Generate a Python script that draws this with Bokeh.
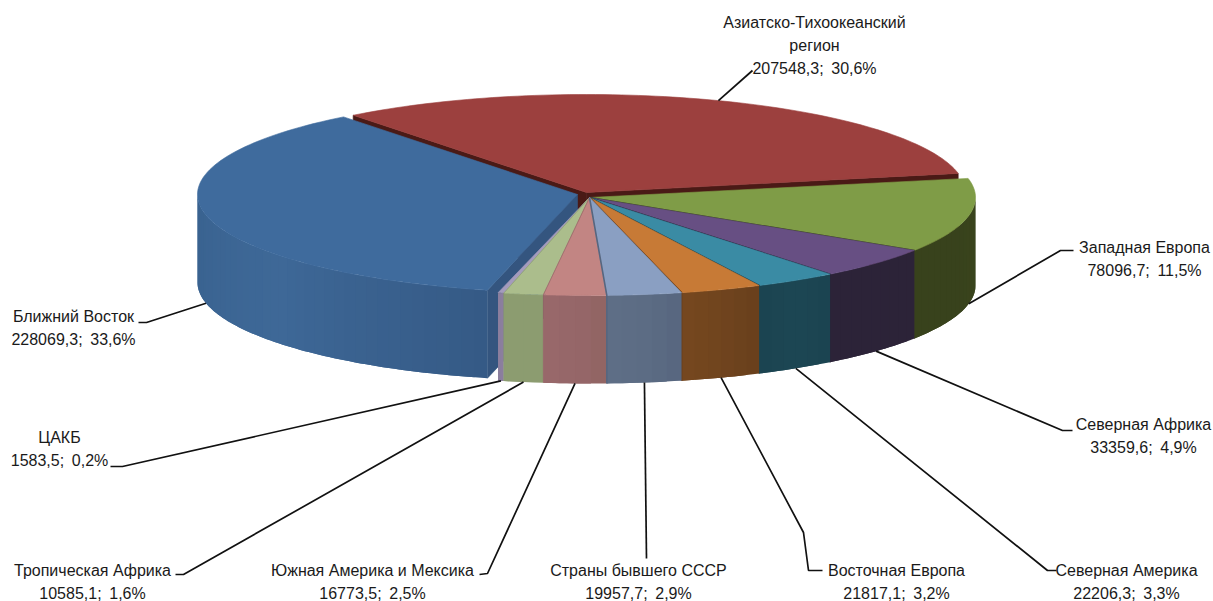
import numpy as np
from bokeh.plotting import figure
from bokeh.models import Range1d
from bokeh.core.properties import value
from bokeh.embed import file_html
from bokeh.resources import INLINE

categories = ["Азиатско-Тихоокеанский\nрегион", "Западная Европа", "Северная Африка", "Северная Америка",
              "Восточная Европа", "Страны бывшего СССР", "Южная Америка и Мексика", "Тропическая Африка",
              "ЦАКБ", "Ближний Восток"]
values = [207548.3, 78096.7, 33359.6, 22206.3, 21817.1, 19957.7, 16773.5, 10585.1, 1583.5, 228069.3]
shares = ["30,6", "11,5", "4,9", "3,3", "3,2", "2,9", "2,5", "1,6", "0,2", "33,6"]
value_text = ["207548,3", "78096,7", "33359,6", "22206,3", "21817,1", "19957,7", "16773,5", "10585,1", "1583,5", "228069,3"]

top_colors = ["#9c403e", "#7f9c47", "#674f83", "#3a8ba4", "#c77a36", "#8a9fc2", "#c28583", "#abbd8c", "#a49bbd", "#3f6b9d"]
wall_right = ["#4a1a16", "#3a451d", "#2c2338", "#1b4451", "#693f1c", "#57667f", "#916463", "#8c9c70", "#8b7e9e", "#355a86"]
wall_mid = ["#4a1a16", "#38421c", "#2c2338", "#1c4653", "#70441e", "#5c6c84", "#966769", "#8c9c70", "#8b7e9e", "#3e6897"]
wall_left = ["#4a1a16", "#38421c", "#2c2338", "#1b4451", "#76481f", "#5f6f86", "#98686a", "#8c9c70", "#8b7e9e", "#39628f"]
edge_width = [0, 1.5, 1.5, 1.5, 1.6, 1.6, 0.6, 0.6, 0, 0]

cx = [586, 589, 589, 589, 589, 589, 589, 589, 589, 577]
cy = [192, 197, 197, 197, 197, 197, 197, 197, 197, 194]
rx = [379, 386, 386, 386, 386, 386, 386, 386, 386, 380]
ry = [98, 98, 98, 98, 98, 98, 98, 98, 98, 98.5]
DEPTH = 88
START = -38.0

label_x = [814, 1144, 1143, 1126, 896, 638, 372, 92, 59, 73]
label_y = [68, 270, 447, 593, 593, 593, 593, 593, 460, 339]
knees = [[(752, 70)], [(1060, 250), (1073, 250)], [(1062, 430), (1072, 430)], [(1047, 570), (1056, 570)],
         [(803, 532), (808, 570), (822, 570)], [(646, 558)], [(487, 573), (479, 574)], [(183, 574), (175, 574)],
         [(122, 466), (110, 466)], [(146, 322), (138, 322)]]

frac = np.array(values) / sum(values) * 360.0
t0 = START + np.concatenate([[0], np.cumsum(frac)[:-1]])
t1 = t0 + frac


def rim(i, t):
    a = np.radians(t)
    return cx[i] + rx[i] * np.sin(a), cy[i] - ry[i] * np.cos(a)


def rgb(c):
    return np.array([int(c[k:k + 2], 16) for k in (1, 3, 5)], float)


def mix(i, f):
    a, b, c = rgb(wall_right[i]), rgb(wall_mid[i]), rgb(wall_left[i])
    v = a + (b - a) * f * 2 if f < 0.5 else b + (c - b) * (f - 0.5) * 2
    return "#%02x%02x%02x" % tuple(int(round(x)) for x in v)


p = figure(width=1213, height=601, output_backend="svg", toolbar_location=None,
           x_range=Range1d(0, 1213), y_range=Range1d(601, 0),
           min_border=0, outline_line_color=None, background_fill_color="white", border_fill_color="white")
p.axis.visible = False
p.grid.visible = False


def flat(xs, ys, color):
    p.patch(xs, ys, fill_color=color, line_color=color, line_width=0.6)


def radial_wall(i, t, color):
    x, y = rim(i, t)
    flat([cx[i], x, x, cx[i]], [cy[i], y, y + DEPTH, cy[i] + DEPTH], color)


def rim_wall(i):
    lo, hi = max(t0[i], 90.0), min(t1[i], 270.0)
    if hi <= lo:
        return
    n = max(2, int((hi - lo) / 2.0))
    edges = np.linspace(lo, hi, n + 1)
    xs, ys, cs = [], [], []
    for k in range(n):
        # every strip runs under the next one so that no seams show
        tt = np.linspace(edges[k], edges[min(k + 2, n)], 5)
        x, y = rim(i, tt)
        xs.append(list(x) + list(x[::-1]))
        ys.append(list(y) + list((y + DEPTH)[::-1]))
        cs.append(mix(i, (k + 0.5) / n))
    p.patches(xs, ys, fill_color=cs, line_color=None)


def top(i):
    tt = np.linspace(t0[i], t1[i], 90)
    x, y = rim(i, tt)
    flat([cx[i]] + list(x), [cy[i]] + list(y), top_colors[i])
    if edge_width[i]:
        ex, ey = rim(i, t1[i])
        p.line([cx[i], ex, ex], [cy[i], ey, ey + DEPTH], line_color=wall_right[i], line_width=edge_width[i])


# back to front
radial_wall(0, t0[0], wall_mid[0])
radial_wall(0, t1[0], wall_mid[0])
top(0)
radial_wall(9, t0[9], "#34557f")
rim_wall(9)
top(9)
for i in [1, 2, 3, 4, 8, 7, 6, 5]:
    rim_wall(i)
    top(i)

# leaders
tm = (t0 + t1) / 2
for i, kn in enumerate(knees):
    x, y = rim(i, tm[i])
    if i:
        y = y + DEPTH
    lx = [float(x)] + [k[0] for k in kn]
    ly = [float(y)] + [k[1] for k in kn]
    p.line(lx, ly, line_color="#111111", line_width=1.7)

# labels
tx, ty, ts = [], [], []
LINE = 23
for i, name in enumerate(categories):
    lines = name.split("\n") + [f"{value_text[i]};\u2009 {shares[i]}%"]
    for j, s in enumerate(lines):
        tx.append(label_x[i])
        ty.append(label_y[i] - LINE * (len(lines) - 1 - j))
        ts.append(s)
p.text(tx, ty, text=ts, text_font=value("Liberation Sans"), text_font_size="16px",
       text_align="center", text_baseline="middle", text_color="#1a1a1a")

open("out.html", "w").write(file_html(p, INLINE))
